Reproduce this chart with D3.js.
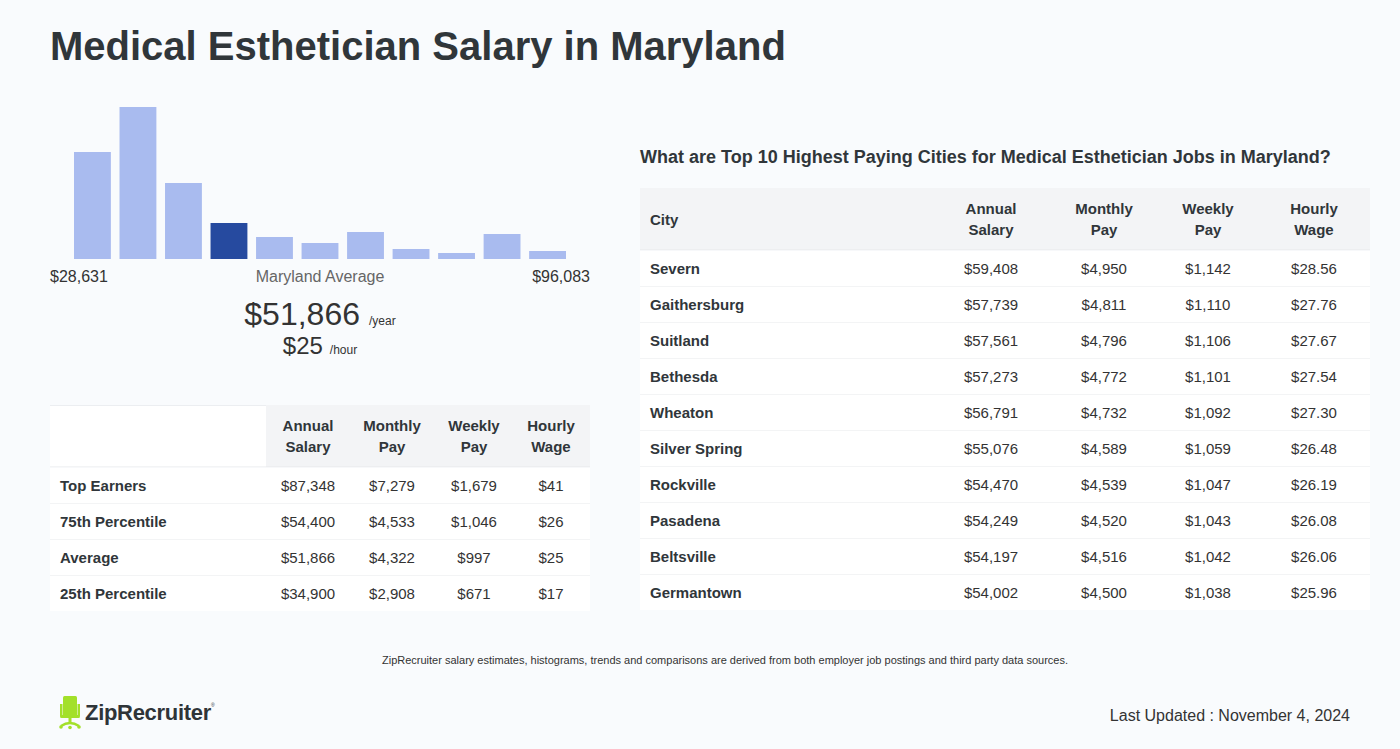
<!DOCTYPE html>
<html>
<head>
<meta charset="utf-8">
<script src="https://cdn.jsdelivr.net/npm/d3@7"></script>
<style>
  html, body { margin: 0; padding: 0; background: #f9fbfd; }
  svg { display: block; font-family: "Liberation Sans", Arial, sans-serif; }
</style>
</head>
<body>
<svg id="chart" width="1400" height="749"></svg>
<script>
// ---------- DATA ----------
const histBins = ["b1","b2","b3","b4","b5","b6","b7","b8","b9","b10","b11"];
const histValues = [107, 152, 76, 36, 22, 16, 27, 10, 6, 25, 8];
const highlightBin = 3;
const histMinLabel = "$28,631";
const histMaxLabel = "$96,083";
const avgLabel = "Maryland Average";
const avgYear = "$51,866";
const avgHour = "$25";

const payColumns = [["Annual","Salary"],["Monthly","Pay"],["Weekly","Pay"],["Hourly","Wage"]];
const pctLabels = ["Top Earners","75th Percentile","Average","25th Percentile"];
const pctAnnual = ["$87,348","$54,400","$51,866","$34,900"];
const pctMonthly = ["$7,279","$4,533","$4,322","$2,908"];
const pctWeekly = ["$1,679","$1,046","$997","$671"];
const pctHourly = ["$41","$26","$25","$17"];

const cities = ["Severn","Gaithersburg","Suitland","Bethesda","Wheaton","Silver Spring","Rockville","Pasadena","Beltsville","Germantown"];
const cityAnnual = ["$59,408","$57,739","$57,561","$57,273","$56,791","$55,076","$54,470","$54,249","$54,197","$54,002"];
const cityMonthly = ["$4,950","$4,811","$4,796","$4,772","$4,732","$4,589","$4,539","$4,520","$4,516","$4,500"];
const cityWeekly = ["$1,142","$1,110","$1,106","$1,101","$1,092","$1,059","$1,047","$1,043","$1,042","$1,038"];
const cityHourly = ["$28.56","$27.76","$27.67","$27.54","$27.30","$26.48","$26.19","$26.08","$26.06","$25.96"];

const titleText = "Medical Esthetician Salary in Maryland";
const cityTitle = "What are Top 10 Highest Paying Cities for Medical Esthetician Jobs in Maryland?";
const footnote = "ZipRecruiter salary estimates, histograms, trends and comparisons are derived from both employer job postings and third party data sources.";
const updated = "Last Updated : November 4, 2024";

// ---------- DRAW ----------
const svg = d3.select("#chart");
const dark = "#30363a", text = "#333";

svg.append("rect").attr("width",1400).attr("height",749).attr("fill","#f9fbfd");

svg.append("text").attr("x",50).attr("y",60).attr("font-size",40).attr("font-weight","bold")
  .attr("fill",dark).text(titleText);

// Histogram
const x = d3.scaleBand().domain(histBins).range([74,566]).paddingInner(0.19).paddingOuter(0);
const y = d3.scaleLinear().domain([0, d3.max(histValues)]).range([259, 107]);
svg.append("g").selectAll("rect").data(histValues).join("rect")
  .attr("x",(d,i)=>x(histBins[i])).attr("width",x.bandwidth())
  .attr("y",d=>y(d)).attr("height",d=>y(0)-y(d))
  .attr("fill",(d,i)=> i===highlightBin ? "#264a9f" : "#a9bbef");

svg.append("text").attr("x",50).attr("y",282).attr("font-size",16).attr("fill",text).text(histMinLabel);
svg.append("text").attr("x",590).attr("y",282).attr("font-size",16).attr("fill",text).attr("text-anchor","end").text(histMaxLabel);
svg.append("text").attr("x",320).attr("y",282).attr("font-size",16).attr("fill","#666").attr("text-anchor","middle").text(avgLabel);

const t1 = svg.append("text").attr("x",320).attr("y",325).attr("text-anchor","middle").attr("fill",text);
t1.append("tspan").attr("font-size",32).text(avgYear);
t1.append("tspan").attr("font-size",12).attr("dx",9).text("/year");
const t2 = svg.append("text").attr("x",320).attr("y",354).attr("text-anchor","middle").attr("fill",text);
t2.append("tspan").attr("font-size",24).text(avgHour);
t2.append("tspan").attr("font-size",12).attr("dx",7).text("/hour");

// Table helper
function drawTable(opts) {
  const g = svg.append("g");
  const {x0, x1, top, headH, rowH, firstHeadFill, colCenters, headFirst, rows, labelX} = opts;
  g.append("rect").attr("x",x0).attr("y",top).attr("width",x1-x0).attr("height",headH).attr("fill","#f3f4f6");
  if (firstHeadFill) {
    g.append("rect").attr("x",x0).attr("y",top).attr("width",opts.firstColW).attr("height",headH).attr("fill",firstHeadFill);
    g.append("line").attr("x1",x0).attr("x2",x0+opts.firstColW).attr("y1",top+0.5).attr("y2",top+0.5).attr("stroke","#eceef1");
  }
  if (headFirst) {
    g.append("text").attr("x",labelX).attr("y",top+headH/2+6).attr("font-size",15).attr("font-weight","bold")
      .attr("fill",dark).text(headFirst);
  }
  payColumns.forEach((c,i)=>{
    const tx = g.append("text").attr("x",colCenters[i]).attr("text-anchor","middle")
      .attr("font-size",15).attr("font-weight","bold").attr("fill",dark);
    tx.append("tspan").attr("x",colCenters[i]).attr("y",top+headH/2-5).text(c[0]);
    tx.append("tspan").attr("x",colCenters[i]).attr("y",top+headH/2+16).text(c[1]);
  });
  g.append("line").attr("x1",x0).attr("x2",x1).attr("y1",top+headH).attr("y2",top+headH).attr("stroke","#e6e8eb");
  rows.forEach((r,i)=>{
    const ry = top + headH + i*rowH;
    g.append("rect").attr("x",x0).attr("y",ry+0.5).attr("width",x1-x0).attr("height",rowH-0.5).attr("fill","#fff");
    if (i < rows.length-1)
      g.append("line").attr("x1",x0).attr("x2",x1).attr("y1",ry+rowH+0.5).attr("y2",ry+rowH+0.5).attr("stroke","#e6e8eb");
    g.append("text").attr("x",labelX).attr("y",ry+rowH/2+6).attr("font-size",15).attr("font-weight","bold")
      .attr("fill",dark).text(r[0]);
    r.slice(1).forEach((v,j)=>{
      g.append("text").attr("x",colCenters[j]).attr("y",ry+rowH/2+6).attr("text-anchor","middle")
        .attr("font-size",15).attr("fill",text).text(v);
    });
  });
}

drawTable({
  x0:50, x1:590, top:405, headH:62, rowH:36, firstHeadFill:"#fff", firstColW:216,
  colCenters:[308,392,474,551], headFirst:null, labelX:60,
  rows: pctLabels.map((l,i)=>[l,pctAnnual[i],pctMonthly[i],pctWeekly[i],pctHourly[i]])
});

svg.append("text").attr("x",640).attr("y",163).attr("font-size",18).attr("font-weight","bold")
  .attr("fill",dark).text(cityTitle);

drawTable({
  x0:640, x1:1370, top:188, headH:62, rowH:36, firstHeadFill:null,
  colCenters:[991,1104,1208,1314], headFirst:"City", labelX:650,
  rows: cities.map((c,i)=>[c,cityAnnual[i],cityMonthly[i],cityWeekly[i],cityHourly[i]])
});

svg.append("text").attr("x",725).attr("y",664).attr("font-size",11).attr("text-anchor","middle")
  .attr("fill",text).text(footnote);

svg.append("text").attr("x",1350).attr("y",721).attr("font-size",16).attr("text-anchor","end")
  .attr("fill",text).text(updated);

// Logo
const logo = svg.append("g").attr("fill","#a3e02a").attr("stroke","none");
logo.append("rect").attr("x",63).attr("y",696).attr("width",14).attr("height",20).attr("rx",1.5);
logo.append("rect").attr("x",60).attr("y",704).attr("width",2.5).attr("height",12);
logo.append("rect").attr("x",77.5).attr("y",704).attr("width",2.5).attr("height",12);
logo.append("rect").attr("x",60).attr("y",715).attr("width",20).attr("height",3).attr("rx",1.5);
logo.append("rect").attr("x",68.5).attr("y",717).attr("width",3).attr("height",7);
logo.append("path").attr("d","M61,726 Q70,720 79,726").attr("fill","none").attr("stroke","#a3e02a").attr("stroke-width",2.5);
logo.append("circle").attr("cx",61).attr("cy",727).attr("r",1.8);
logo.append("circle").attr("cx",79).attr("cy",727).attr("r",1.8);
logo.append("circle").attr("cx",70).attr("cy",727.5).attr("r",1.8);
svg.append("text").attr("x",85).attr("y",720).attr("font-size",22).attr("font-weight","bold")
  .attr("fill","#2f3438").attr("letter-spacing",-0.3).text("ZipRecruiter");
svg.append("text").attr("x",211).attr("y",707).attr("font-size",5).attr("fill","#2f3438").text("®");
</script>
</body>
</html>
